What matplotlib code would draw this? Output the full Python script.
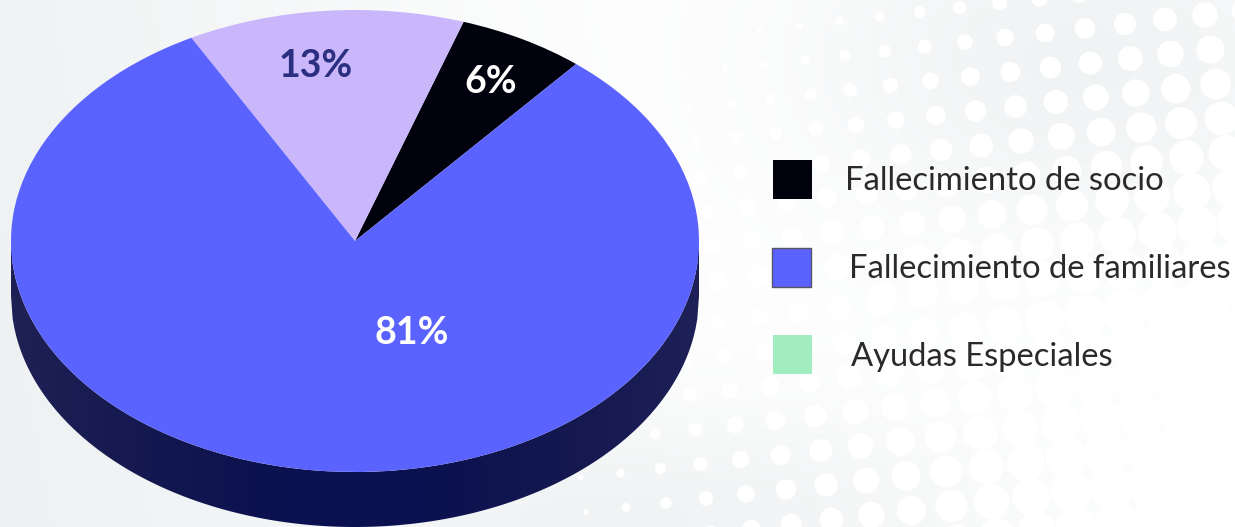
import numpy as np
import matplotlib
matplotlib.use('Agg')
import matplotlib.pyplot as plt
from matplotlib.colors import LinearSegmentedColormap
from matplotlib.patches import Polygon, Rectangle

# chart data
labels = ['Fallecimiento de socio', 'Fallecimiento de familiares', 'Ayudas Especiales']
legend_colors = ['#02020f', '#5b63ff', '#a2edbf']
slice_values = [6, 13, 81]
slice_colors = ['#02020f', '#c9b6fb', '#5b63ff']
label_colors = ['white', '#2b2f7f', 'white']

W, H = 1235, 527
plt.rcParams['font.family'] = ['Lato', 'DejaVu Sans']

fig = plt.figure(figsize=(W / 100, H / 100), dpi=100)

# background in pixel coordinates
bg = fig.add_axes([0, 0, 1, 1])
bg.set_xlim(0, W)
bg.set_ylim(H, 0)
bg.axis('off')

yy, xx = np.mgrid[0:H, 0:W]


def blob(cx, cy, sx, sy):
    return np.exp(-((xx - cx) / sx) ** 2 - ((yy - cy) / sy) ** 2)


# grey left side, pale band in the middle, cooler grey top right and bottom
shade = 1 - np.clip((xx + 0.15 * (H - yy)) / 700, 0, 1)
shade = np.clip(shade + 0.85 * blob(1080, 60, 260, 170) + 0.8 * blob(700, 520, 300, 110), 0, 1)
img = np.zeros((H, W, 3))
for i, (lo, hi) in enumerate(zip((254, 254, 254), (238, 241, 242))):
    img[:, :, i] = (lo + (hi - lo) * shade) / 255
bg.imshow(img, extent=(0, W, H, 0), aspect='auto', zorder=0)

# halftone dots, one field top right and one at the bottom
ii, jj = np.mgrid[-16:3, -2:9]
dx = 1205 + 40 * ii + 5.4 * jj
dy = 15 - 4.5 * ii + 34.5 * jj
rad = 3 + 0.024 * (dx - 763) + 0.035 * (dy - 40)
keep = (rad > 2) & (dy < 300)
bg.scatter(dx[keep], dy[keep], s=(2 * rad[keep] * 0.72) ** 2, c='white', linewidths=0, zorder=1)

ii, jj = np.mgrid[-1:20, -6:3]
dx = 586 + 40 * ii + 5.4 * jj
dy = 512 - 4.5 * ii + 34.5 * jj
rad = 3 + 0.036 * (dx - 586)
keep = (rad > 2) & (dy > 300)
bg.scatter(dx[keep], dy[keep], s=(2 * rad[keep] * 0.72) ** 2, c='white', linewidths=0, zorder=1)

# pie axes: one data unit is the radius of the top face
cx, cy, a, b = 355, 241, 344, 231
depth = 55 / b
ax = fig.add_axes([0, 0, 1, 1], facecolor='none')
wedges, texts, pct = ax.pie(slice_values, colors=slice_colors, startangle=50,
                            counterclock=True, radius=1, autopct='%d%%',
                            wedgeprops={'linewidth': 0}, frame=False)
ax.set_aspect('auto')
xlim = ((0 - cx) / a, (W - cx) / a)
ylim = ((cy - H) / b, cy / b)
ax.axis('off')

# side wall under the top face
xs = np.linspace(-1, 1, 400)
rim = -np.sqrt(1 - xs ** 2)
wall_pts = np.vstack([np.column_stack([xs, rim]),
                      np.column_stack([xs[::-1], rim[::-1] - depth])])
wall_cmap = LinearSegmentedColormap.from_list(
    'wall', ['#1f2155', '#14184f', '#0b1150', '#0b1150', '#14184f', '#1e2058'])
wall = ax.imshow(np.linspace(0, 1, 256)[None, :], cmap=wall_cmap, aspect='auto',
                 extent=(-1, 1, -1 - depth, 0), zorder=0.5)
wall.set_clip_path(Polygon(wall_pts, transform=ax.transData))
ax.set_xlim(xlim)
ax.set_ylim(ylim)

for w in wedges:
    w.set_zorder(1)

# percent labels, placed along their slice
spots = [(60.2, 0.795), (98.5, 0.766), (292.6, 0.431)]
for t, col, (ang, rr) in zip(pct, label_colors, spots):
    t.set_position((rr * np.cos(np.radians(ang)), rr * np.sin(np.radians(ang))))
    t.set_color(col)
    t.set_fontsize(27)
    t.set_fontweight('bold')
    t.set_zorder(2)

# legend
swatch_top = [160, 248, 335]
swatch_x = [773, 772, 773]
text_x = [845, 849, 851]
text_y = [181, 269, 357]
for i, name in enumerate(labels):
    edge = '#555566' if i == 1 else 'none'
    bg.add_patch(Rectangle((swatch_x[i], swatch_top[i]), 39, 39, facecolor=legend_colors[i],
                           edgecolor=edge, linewidth=1, zorder=3))
    bg.text(text_x[i], text_y[i], name, fontsize=23.6, color='#2a2a2a',
            va='center', ha='left', zorder=3)

fig.savefig('out.png', dpi=100)
